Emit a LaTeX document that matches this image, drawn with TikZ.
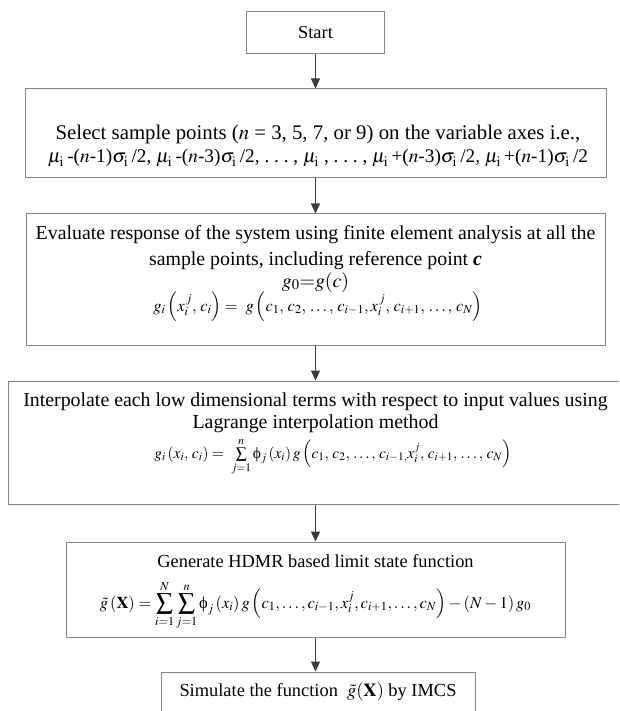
\documentclass[tikz,border=0pt]{standalone}
\usepackage{amsmath}
\usepackage{mathptmx}
\usepackage{graphicx}
\usepackage[no-math]{fontspec}
\setmainfont{Liberation Serif}
\usetikzlibrary{arrows.meta}
\definecolor{boxgray}{HTML}{858585}
\definecolor{arrowgray}{HTML}{3A3A3A}
\newcommand{\myphi}{\mathord{\textnormal{ϕ}}}
\tikzset{
  flowbox/.style={draw=boxgray, line width=1pt, inner sep=0pt, fill=none},
  txt/.style={font=\fontsize{18.4}{22}\selectfont, inner sep=0pt, anchor=base},
  bigtxt/.style={txt, font=\fontsize{19.85}{24}\selectfont},
  eqtxt/.style={txt, font=\fontsize{16}{19}\selectfont},
  flowarrow/.style={draw=arrowgray, line width=1.2pt, -{Triangle[length=10pt,width=9pt]}}
}
\begin{document}
\begin{tikzpicture}[x=1pt,y=-1pt]
\useasboundingbox (0,0) rectangle (619,711);
\clip (0,0) rectangle (619,711);
\fill[white] (0,0) rectangle (619,711);
% boxes
\node[flowbox, minimum width=138pt, minimum height=42pt, font=\fontsize{18.4}{22}\selectfont] (start) at (315.5,33) {Start};
\node[flowbox, minimum width=581pt, minimum height=89pt] (b2) at (315.5,133.5) {};
\node[flowbox, minimum width=579pt, minimum height=131pt] (b3) at (315.5,279.5) {};
\node[flowbox, minimum width=614pt, minimum height=123pt] (b4) at (315.5,442.5) {};
\node[flowbox, minimum width=499pt, minimum height=95pt] (b5) at (315.5,589.5) {};
\node[flowbox, minimum width=314pt, minimum height=46pt] (b6) at (318,695) {};
% texts
\node[txt, font=\fontsize{20.8}{24}\selectfont] (t2a) at (318,140) {Select sample points ($n$ = 3, 5, 7, or 9) on the variable axes i.e.,};
\node[txt] (t2b) at (318,163) {\resizebox{540pt}{!}{$\mu_{\mathrm{i}}$\,-($n$-1)$\sigma_{\mathrm{i}}$\,/2, $\mu_{\mathrm{i}}$\,-($n$-3)$\sigma_{\mathrm{i}}$\,/2, .\ .\ .\ , $\mu_{\mathrm{i}}$\ , .\ .\ .\ , $\mu_{\mathrm{i}}$\,+($n$-3)$\sigma_{\mathrm{i}}$\,/2, $\mu_{\mathrm{i}}$\,+($n$-1)$\sigma_{\mathrm{i}}$\,/2}};
\node[bigtxt] (t3a) at (315.5,240) {Evaluate response of the system using finite element analysis at all the};
\node[bigtxt] (t3b) at (315.5,265) {sample points, including reference point \textbf{\textit{c}}};
\node[bigtxt] (t3c) at (315.5,287) {$g_0{=}g(c)$};
\node[eqtxt, font=\fontsize{16.5}{19}\selectfont] (t3d) at (318,311) {$g_i\left(x_i^{\,j},\, c_i\right)=\ g\left(c_1,\, c_2,\, \ldots,\, c_{i-1},x_i^{\,j},\, c_{i+1},\, \ldots,\, c_N\right)$};
\node[bigtxt] (t4a) at (315.5,406) {Interpolate each low dimensional terms with respect to input values using};
\node[bigtxt] (t4b) at (315.5,428) {Lagrange interpolation method};
\node[eqtxt, font=\fontsize{15.5}{19}\selectfont] (t4c) at (333,458) {$g_i\left(x_i,\, c_i\right)=\ \sum\limits_{j=1}^{n}\myphi_j\left(x_i\right)g\left(c_1,\, c_2,\, \ldots,\, c_{i-1,}x_i^j,\, c_{i+1},\, \ldots,\, c_N\right)$};
\node[txt] (t5a) at (315.5,567) {Generate HDMR based limit state function};
\node[txt] (t5b) at (315.5,608) {\resizebox{431pt}{!}{$\displaystyle\tilde{g}\left(\mathbf{X}\right)=\sum_{i=1}^{N}\sum_{j=1}^{n}\myphi_j\left(x_i\right)g\left(c_1,\ldots,c_{i-1},x_i^j,c_{i+1},\ldots,c_N\right)-\left(N-1\right)g_0$}};
\node[txt] (t6) at (318,696) {Simulate the function \ $\tilde{g}(\mathbf{X})$ by IMCS};
% arrows
\draw[flowarrow] (start.south) -- (start.south |- b2.north);
\draw[flowarrow] (b2.south) -- (b2.south |- b3.north);
\draw[flowarrow] (b3.south) -- (b3.south |- b4.north);
\draw[flowarrow] (b4.south) -- (b4.south |- b5.north);
\draw[flowarrow] (b5.south) -- (b5.south |- b6.north);
\end{tikzpicture}
\end{document}
